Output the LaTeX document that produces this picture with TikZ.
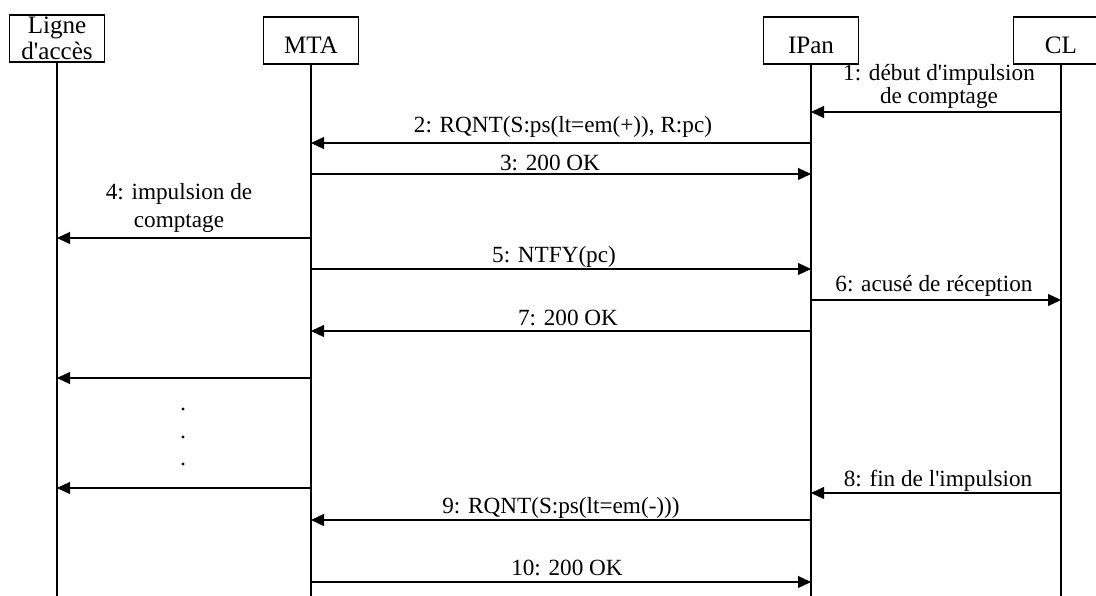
\documentclass[tikz,border=0pt]{standalone}
\usepackage{fontspec}
\setmainfont{Liberation Serif}
\usetikzlibrary{arrows.meta}

\begin{document}
\begin{tikzpicture}[
    x=0.75pt, y=-0.75pt,
    line width=0.9pt,
    enode/.style={draw, inner sep=0pt, minimum width=71.25pt, minimum height=35.25pt,
                  font=\fontsize{18.8}{19.5}\selectfont, align=center},
    eline/.style={text height=18.75pt, text depth=0pt},
    mnode/.style={inner sep=0pt, anchor=base, align=center,
                  font=\fontsize{17.4}{15}\selectfont},
    marrow/.style={-{Triangle[length=9.75pt, width=9pt]}, line width=0.9pt}
]
\useasboundingbox (0,0) rectangle (1096,596);
\clip (0,0) rectangle (1096,596);
% --- Entities ---
\node[enode] (ligne) at (57, 38.5) {Ligne\\d\textquotesingle accès};
\foreach \n/\t/\x in {mta/MTA/311, ipan/IPan/811, cl/CL/1061} {
    \node[enode, eline] (\n) at (\x, 40.5) {\t};
}
% --- Lifelines ---
\foreach \n/\x in {ligne/57, mta/311, ipan/811, cl/1061} {
    \coordinate (\n-end) at (\x, 596);
    \draw (\n) -- (\n-end);
}
% --- Messages ---
\foreach \s/\d/\y in {cl/ipan/112, ipan/mta/143, mta/ipan/174, mta/ligne/238,
                      mta/ipan/269, ipan/cl/300, ipan/mta/331, mta/ligne/378,
                      mta/ligne/488, cl/ipan/493, ipan/mta/520, mta/ipan/582} {
    \draw[marrow] (\s |- 0,\y) -- (\d |- 0,\y);
}
% --- Message labels (base = last line) ---
\node[mnode] (m1) at (939, 103) {1: début d\textquotesingle impulsion\\de comptage};
\node[mnode] (m2) at (563, 132) {2: RQNT(S:ps(lt=em(+)), R:pc)};
\node[mnode] (m3) at (550, 170) {3: 200 OK};
\node[mnode, font=\fontsize{17.4}{21}\selectfont] (m4) at (179, 227) {4: impulsion de\\comptage};
\node[mnode] (m5) at (554, 262) {5: NTFY(pc)};
\node[mnode] (m6) at (934, 291) {6: acusé de réception};
\node[mnode] (m7) at (568, 325) {7: 200 OK};
\node[mnode] (m8) at (938, 486) {8: fin de l\textquotesingle impulsion};
\node[mnode] (m9) at (561, 513) {9: RQNT(S:ps(lt=em(-)))};
\node[mnode] (m10) at (567, 575) {10: 200 OK};
% --- Dots ---
\foreach \y in {409, 437, 464} {
    \fill (183, \y) circle[radius=1.6];
}
\end{tikzpicture}
\end{document}
